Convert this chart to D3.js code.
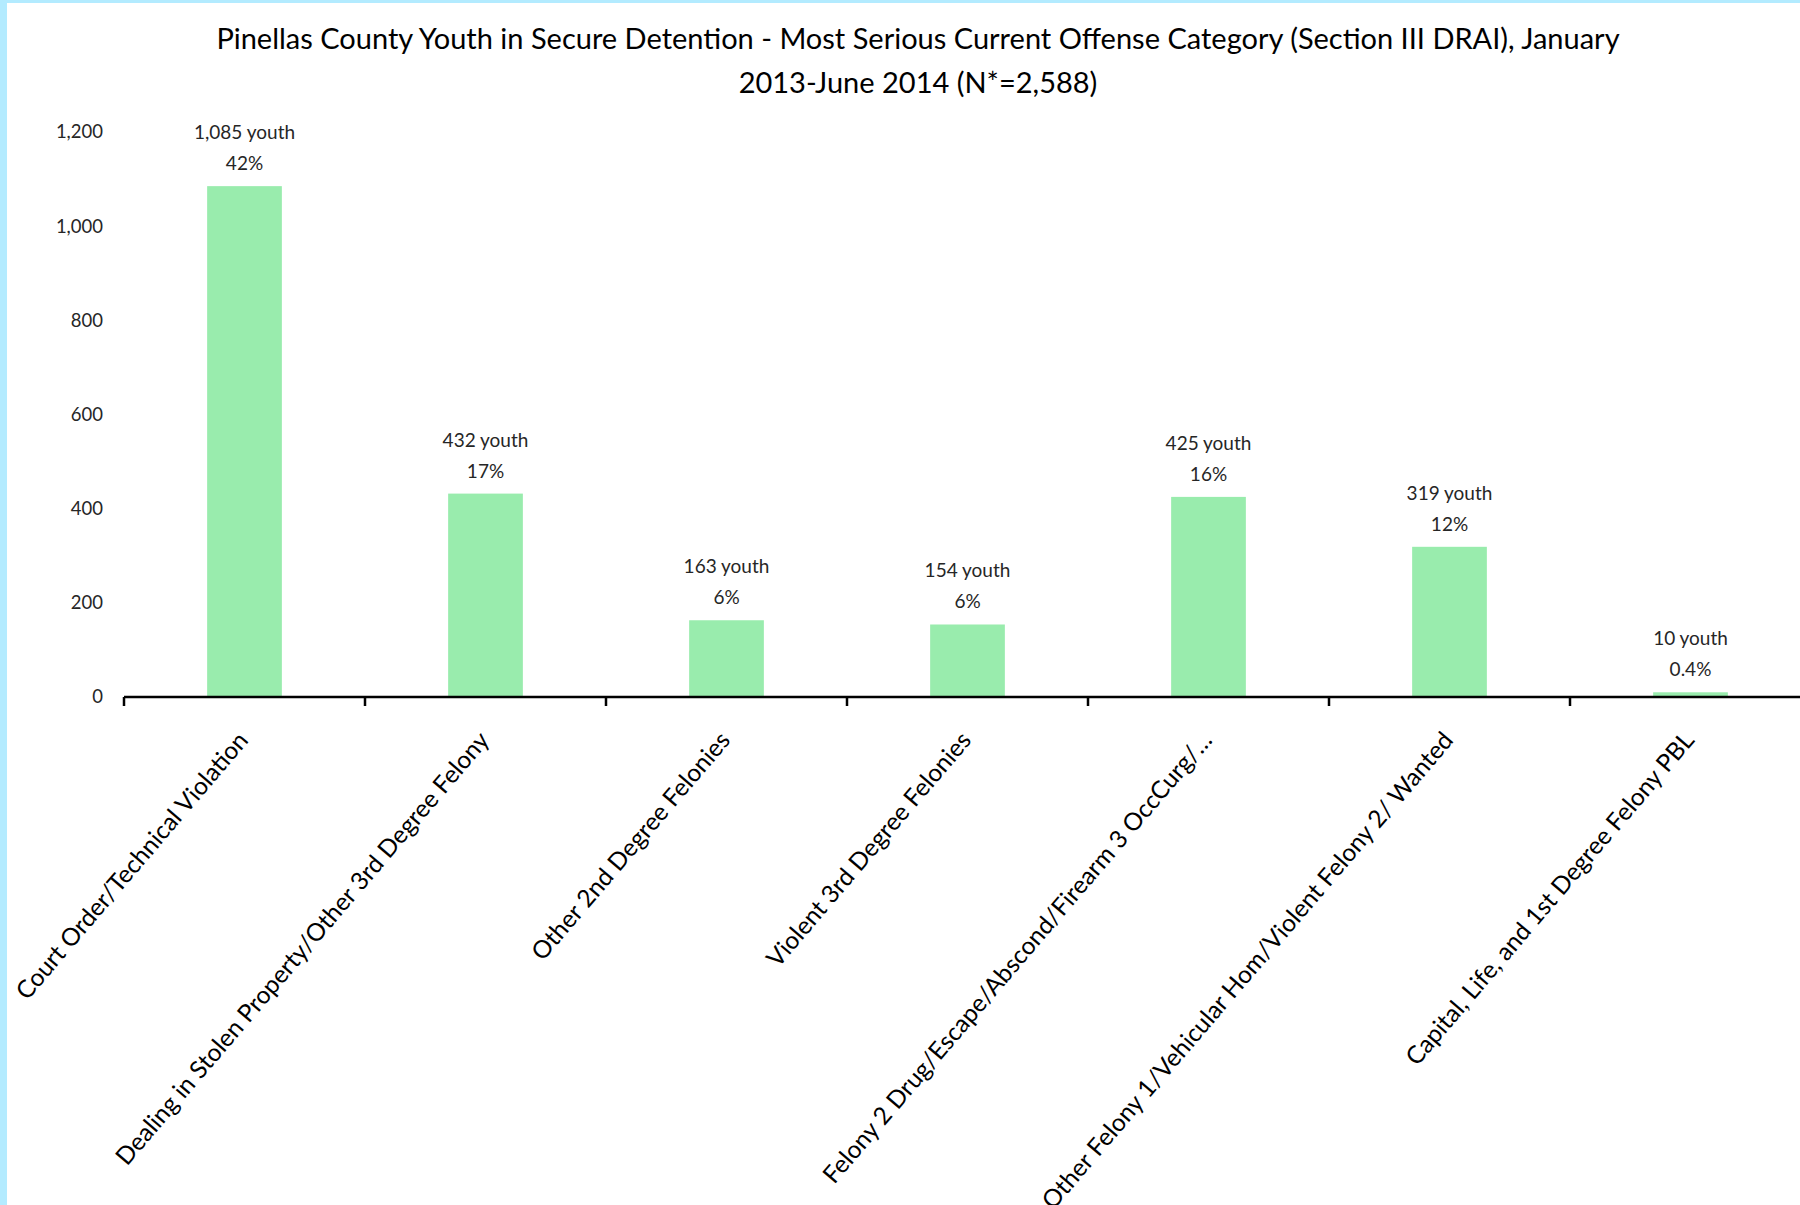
<!DOCTYPE html>
<html>
<head>
<meta charset="utf-8">
<script src="https://cdn.jsdelivr.net/npm/d3@7"></script>
<style>
  html, body { margin: 0; padding: 0; background: #fff; }
  svg { display: block; }
</style>
</head>
<body>
<script>
const categories = [
  "Court Order/Technical Violation",
  "Dealing in Stolen Property/Other 3rd Degree Felony",
  "Other 2nd Degree Felonies",
  "Violent 3rd Degree Felonies",
  "Felony 2 Drug/Escape/Abscond/Firearm 3 OccCurg/…",
  "Other Felony 1/Vehicular Hom/Violent Felony 2/ Wanted",
  "Capital, Life, and 1st Degree Felony PBL"
];
const youthCounts = [1085, 432, 163, 154, 425, 319, 10];
const percentLabels = ["42%", "17%", "6%", "6%", "16%", "12%", "0.4%"];
const yTicks = [0, 200, 400, 600, 800, 1000, 1200];
const titleLines = [
  "Pinellas County Youth in Secure Detention - Most Serious Current Offense Category (Section III DRAI), January",
  "2013-June 2014 (N*=2,588)"
];

const W = 1800, H = 1205;
const font = "Lato, 'Open Sans', sans-serif";
const svg = d3.select("body").append("svg").attr("width", W).attr("height", H);

svg.append("rect").attr("width", W).attr("height", H).attr("fill", "#fff");
// light blue frame
svg.append("rect").attr("x", 0).attr("y", 0).attr("width", 7).attr("height", H).attr("fill", "#b3ebff");
svg.append("rect").attr("x", 0).attr("y", 0).attr("width", W).attr("height", 3).attr("fill", "#b3ebff");

const x0 = 124, step = 241;
const x = d3.scaleBand().domain(categories).range([x0, x0 + step * categories.length]).padding(0);
const y = d3.scaleLinear().domain([0, 1200]).range([697, 132]);
const barW = x.bandwidth() * 0.31;

// title
svg.append("g").selectAll("text").data(titleLines).join("text")
  .attr("x", 918).attr("y", (d, i) => 49 + i * 44)
  .attr("text-anchor", "middle")
  .attr("font-family", font).attr("font-size", 29).attr("fill", "#000")
  .text(d => d);

// y labels
svg.append("g").selectAll("text").data(yTicks).join("text")
  .attr("x", 103).attr("y", d => y(d)).attr("dy", "0.35em")
  .attr("text-anchor", "end")
  .attr("font-family", font).attr("font-size", 18.5).attr("fill", "#262626")
  .text(d => d3.format(",")(d));

// bars
svg.append("g").selectAll("rect").data(youthCounts).join("rect")
  .attr("x", (d, i) => x(categories[i]) + (x.bandwidth() - barW) / 2)
  .attr("y", d => y(d))
  .attr("width", barW)
  .attr("height", d => y(0) - y(d))
  .attr("fill", "#99ecad");

// data labels
const lbl = svg.append("g").attr("font-family", font).attr("font-size", 19).attr("fill", "#262626").attr("text-anchor", "middle");
lbl.selectAll("text.c").data(youthCounts).join("text").attr("class", "c")
  .attr("x", (d, i) => x(categories[i]) + x.bandwidth() / 2)
  .attr("y", d => y(d) - 47)
  .text(d => d3.format(",")(d) + " youth");
lbl.selectAll("text.p").data(youthCounts).join("text").attr("class", "p")
  .attr("x", (d, i) => x(categories[i]) + x.bandwidth() / 2)
  .attr("y", d => y(d) - 16)
  .text((d, i) => percentLabels[i]);

// x axis
const xAxis = d3.axisBottom(x).tickSize(0).tickFormat("");
const ax = svg.append("g").attr("transform", `translate(0,${y(0)})`).call(xAxis);
ax.select(".domain").remove();
ax.append("line").attr("x1", x0).attr("x2", W).attr("y1", 0).attr("y2", 0).attr("stroke", "#000").attr("stroke-width", 2.5);
ax.selectAll("line.tk").data(d3.range(categories.length + 1)).join("line").attr("class", "tk")
  .attr("x1", i => x0 + i * x.step()).attr("x2", i => x0 + i * x.step())
  .attr("y1", 0).attr("y2", 9).attr("stroke", "#000").attr("stroke-width", 2.5);

// rotated category labels
svg.append("g").selectAll("text").data(categories).join("text")
  .attr("transform", d => `translate(${x(d) + x.bandwidth() / 2 + 5},${y(0) + 44}) rotate(-49.5)`)
  .attr("text-anchor", "end")
  .attr("font-family", font).attr("font-size", 24.5).attr("fill", "#000")
  .text(d => d);
</script>
</body>
</html>
